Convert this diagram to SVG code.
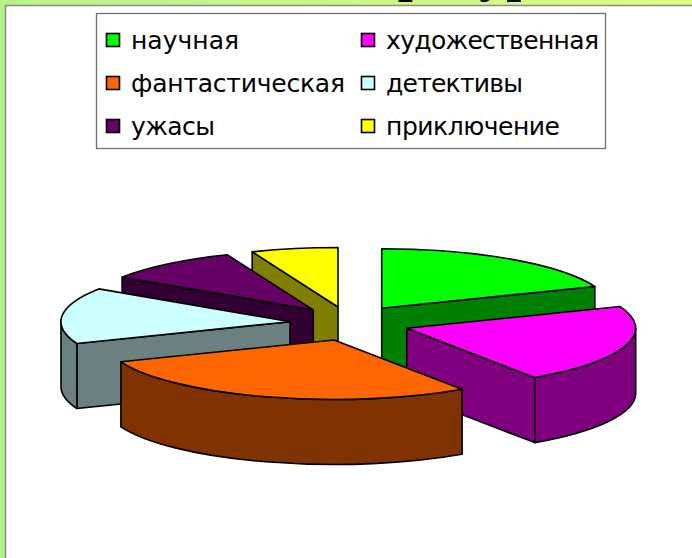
<svg xmlns="http://www.w3.org/2000/svg" width="692" height="558" viewBox="0 0 692 558">
<defs>
<linearGradient id="bg" x1="0" y1="0" x2="1" y2="0">
<stop offset="0" stop-color="#b6f48c"/>
<stop offset="1" stop-color="#dcfe7e"/>
</linearGradient>
</defs>
<style>
.pie path{stroke:#000;stroke-width:1.6;stroke-linejoin:round}
.lg{font-family:"DejaVu Sans",Verdana,sans-serif;font-size:25px;fill:#000}
.sw{stroke:#000;stroke-width:1.6}
</style>
<rect x="0" y="0" width="692" height="558" fill="url(#bg)"/>
<text x="276" y="-10" font-family="Liberation Serif,Times New Roman,serif" font-weight="bold" font-size="54" fill="#000">Литература</text>
<rect x="6" y="6" width="686" height="552" fill="#fff"/>
<path d="M5.5 558 V5.5 H692" fill="none" stroke="#8a8a8a" stroke-width="1.5"/>

<g id="legend">
<rect x="96.5" y="13.5" width="509" height="135" fill="#fff" stroke="#707070" stroke-width="1.3"/>
<g id="leg-nauchnaya"><rect class="sw" x="106.5" y="33.5" width="13" height="13" fill="#00ff00"/><text class="lg" x="131" y="49" textLength="108" lengthAdjust="spacing">научная</text></g>
<g id="leg-fantast"><rect class="sw" x="106.5" y="76.5" width="13" height="13" fill="#ff6600"/><text class="lg" x="131" y="92" textLength="214" lengthAdjust="spacing">фантастическая</text></g>
<g id="leg-uzhasy"><rect class="sw" x="106.5" y="119.5" width="13" height="13" fill="#660066"/><text class="lg" x="131" y="135" textLength="84" lengthAdjust="spacing">ужасы</text></g>
<g id="leg-hudozh"><rect class="sw" x="361.5" y="33.5" width="13" height="13" fill="#ff00ff"/><text class="lg" x="386" y="49" textLength="213" lengthAdjust="spacing">художественная</text></g>
<g id="leg-detekt"><rect class="sw" x="361.5" y="76.5" width="13" height="13" fill="#ccffff"/><text class="lg" x="386" y="92" textLength="137" lengthAdjust="spacing">детективы</text></g>
<g id="leg-prikl"><rect class="sw" x="361.5" y="119.5" width="13" height="13" fill="#ffff00"/><text class="lg" x="386" y="135" textLength="174" lengthAdjust="spacing">приключение</text></g>
</g>

<g class="pie">
<g id="slice-nauchnaya">
<path d="M381.7 308.3 L594.8 286.5 L594.8 351.5 L381.7 373.3 Z" fill="#008000"/>
<path d="M381.7 308.3 L381.7 248.8 A229 59.5 0 0 1 594.8 286.5 Z" fill="#00ff00"/>
</g>
<g id="slice-prikl">
<path d="M338 307 L252.2 251.8 L252.2 316.8 L338 372 Z" fill="#808000"/>
<path d="M338 307 L338 247.5 A229 59.5 0 0 0 252.2 251.8 Z" fill="#ffff00"/>
</g>
<g id="slice-uzhasy">
<path d="M313.3 310 L122.1 277.2 L122.1 342.2 L313.3 375 Z" fill="#330033"/>
<path d="M313.3 310 L227.5 254.8 A229 59.5 0 0 0 122.1 277.2 Z" fill="#660066"/>
</g>
<g id="slice-detekt">
<path d="M290 321.7 L76.9 343.5 L76.9 408.5 L290 386.7 Z" fill="#6b8080"/>
<path d="M61 321.7 A229 59.5 0 0 0 76.9 343.5 L76.9 408.5 A229 59.5 0 0 1 61 386.7 Z" fill="#6b8080"/>
<path d="M290 321.7 L98.8 288.9 A229 59.5 0 0 0 76.9 343.5 Z" fill="#ccffff"/>
</g>
<g id="slice-hudozh">
<path d="M406.7 328.3 L534.8 377.6 L534.8 442.6 L406.7 393.3 Z" fill="#800080"/>
<path d="M534.8 377.6 A229 59.5 0 0 0 635.7 328.3 L635.7 393.3 A229 59.5 0 0 1 534.8 442.6 Z" fill="#800080"/>
<path d="M406.7 328.3 L534.8 377.6 A229 59.5 0 0 0 619.8 306.5 Z" fill="#ff00ff"/>
</g>
<g id="slice-fantast">
<path d="M120.9 361.8 A229 59.5 0 0 0 462.1 389.3 L462.1 454.3 A229 59.5 0 0 1 120.9 426.8 Z" fill="#803300"/>
<path d="M334 340 L120.9 361.8 A229 59.5 0 0 0 462.1 389.3 Z" fill="#ff6600"/>
</g>
</g>
</svg>
